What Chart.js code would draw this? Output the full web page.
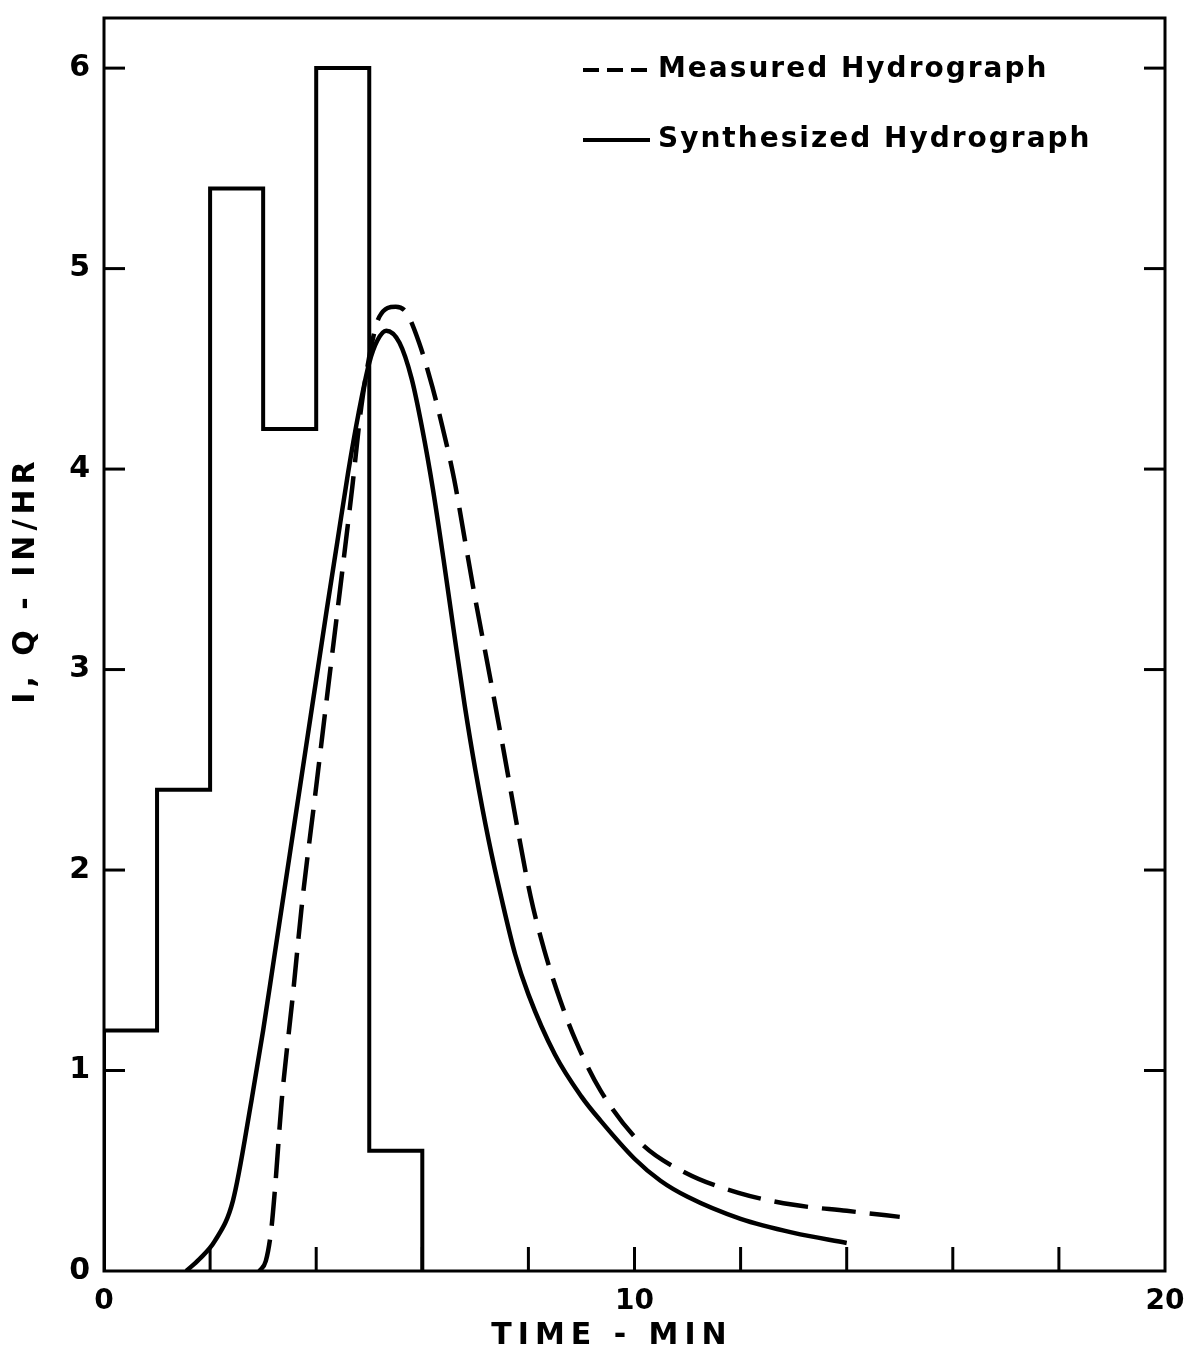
<!DOCTYPE html>
<html>
<head>
<meta charset="utf-8">
<script src="https://cdn.jsdelivr.net/npm/chart.js@4.4.0/dist/chart.umd.min.js"></script>
<style>
  html, body { margin: 0; padding: 0; background: #fff; }
  #wrap { width: 1184px; height: 1357px; }
</style>
</head>
<body>
<div id="wrap"><canvas id="hydroChart" width="1184" height="1357"></canvas></div>
<script>
// Lluvia (hietograma) - bordes de tiempo en min e intensidad en in/hr
const rainEdges = [0, 1, 2, 3, 4, 5, 6];
const rainIntensity = [1.2, 2.4, 5.4, 4.2, 6.0, 0.6];

// Hidrograma medido (línea discontinua)
const measuredTime = [2.93, 3.05, 3.15, 3.22, 3.35, 3.55, 3.74, 3.97, 4.22, 4.45, 4.68, 4.85, 5.06, 5.19, 5.5, 5.7, 5.94, 6.19, 6.38, 6.6, 6.8, 7.0, 7.25, 7.53, 7.8, 8.04, 8.3, 8.6, 8.89, 9.36, 10.11, 10.96, 11.96, 13.0, 14.0, 15.0];
const measuredQ    = [0, 0.05, 0.2, 0.4, 0.85, 1.35, 1.85, 2.35, 2.9, 3.4, 3.91, 4.31, 4.64, 4.76, 4.81, 4.78, 4.63, 4.41, 4.21, 3.95, 3.65, 3.35, 3.0, 2.6, 2.2, 1.87, 1.6, 1.35, 1.15, 0.9, 0.64, 0.49, 0.39, 0.33, 0.3, 0.27];

// Hidrograma sintetizado (línea continua)
const synthTime = [1.55, 1.8, 2.09, 2.43, 2.78, 3.0, 3.2, 3.4, 3.6, 3.8, 4.0, 4.2, 4.4, 4.6, 4.8, 5.0, 5.15, 5.32, 5.57, 5.8, 6.0, 6.2, 6.4, 6.6, 6.8, 7.0, 7.25, 7.5, 7.75, 8.0, 8.5, 9.0, 9.36, 10.0, 10.49, 11.0, 12.0, 13.0, 14.0];
const synthQ    = [0, 0.06, 0.15, 0.35, 0.85, 1.2, 1.55, 1.9, 2.25, 2.6, 2.95, 3.3, 3.64, 3.98, 4.28, 4.53, 4.64, 4.69, 4.63, 4.45, 4.2, 3.9, 3.55, 3.18, 2.82, 2.5, 2.15, 1.85, 1.58, 1.38, 1.08, 0.87, 0.75, 0.56, 0.45, 0.37, 0.26, 0.19, 0.14];

// Marcas de ejes
const yTickValues = [0, 1, 2, 3, 4, 5, 6];
const xTickValues = [0, 2, 4, 6, 8, 10, 12, 14, 16, 18, 20];
const xLabeled = [0, 10, 20];

const FONT = '"DejaVu Sans", "Liberation Sans", sans-serif';

// Puntos del hietograma (escalonado)
const rainPoints = [{ x: rainEdges[0], y: 0 }];
rainIntensity.forEach((v, i) => rainPoints.push({ x: rainEdges[i], y: v }));
rainPoints.push({ x: rainEdges[rainEdges.length - 1], y: 0 });

const toPoints = (xs, ys) => xs.map((t, i) => ({ x: t, y: ys[i] }));

// Marco, marcas hacia adentro, leyenda y títulos
const framePlugin = {
    id: 'frame',
    afterDraw(chart) {
        const { ctx, chartArea: a, scales } = chart;
        const xs = scales.x, ys = scales.y;
        ctx.save();
        ctx.strokeStyle = '#000';
        ctx.fillStyle = '#000';
        ctx.lineCap = 'butt';
        ctx.lineWidth = 3;
        ctx.strokeRect(a.left, a.top, a.right - a.left, a.bottom - a.top);

        const seg = (x1, y1, x2, y2) => { ctx.beginPath(); ctx.moveTo(x1, y1); ctx.lineTo(x2, y2); ctx.stroke(); };
        yTickValues.forEach(v => {
            if (v === 0) return;
            const py = ys.getPixelForValue(v);
            seg(a.left, py, a.left + 21, py);
            seg(a.right - 21, py, a.right, py);
        });
        xTickValues.forEach(v => {
            if (v === 0 || v === 20) return;
            const px = xs.getPixelForValue(v);
            seg(px, a.bottom, px, a.bottom - 24);
        });

        // Leyenda
        ctx.font = 'bold 28px ' + FONT;
        ctx.letterSpacing = '2px';
        ctx.textBaseline = 'middle';
        ctx.textAlign = 'left';
        const legendItems = [chart.data.datasets[1], chart.data.datasets[2]];
        legendItems.forEach((ds, i) => {
            const ly = 70 + i * 70;
            ctx.lineWidth = 4;
            ctx.setLineDash(ds.borderDash && ds.borderDash.length ? [16, 8] : []);
            seg(583, ly, 650, ly);
            ctx.setLineDash([]);
            ctx.fillText(ds.label, 658, ly);
        });

        // Títulos de ejes
        ctx.font = 'bold 30px ' + FONT;
        ctx.letterSpacing = '6px';
        ctx.textAlign = 'center';
        ctx.fillText('TIME - MIN', 612, 1336);

        ctx.save();
        ctx.translate(26, 580);
        ctx.rotate(-Math.PI / 2);
        ctx.letterSpacing = '5px';
        ctx.fillText('I, Q - IN/HR', 0, 0);
        ctx.restore();

        ctx.restore();
    }
};

const chart = new Chart(document.getElementById('hydroChart').getContext('2d'), {
    type: 'scatter',
    data: {
        datasets: [
            {
                label: 'Rainfall',
                data: rainPoints,
                showLine: true,
                stepped: 'before',
                borderColor: '#000',
                borderWidth: 4,
                pointRadius: 0,
                fill: false
            },
            {
                label: 'Measured Hydrograph',
                data: toPoints(measuredTime, measuredQ),
                showLine: true,
                cubicInterpolationMode: 'monotone',
                borderColor: '#000',
                borderWidth: 4.5,
                borderDash: [34, 14],
                pointRadius: 0,
                fill: false
            },
            {
                label: 'Synthesized Hydrograph',
                data: toPoints(synthTime, synthQ),
                showLine: true,
                cubicInterpolationMode: 'monotone',
                borderColor: '#000',
                borderWidth: 4.5,
                pointRadius: 0,
                fill: false
            }
        ]
    },
    options: {
        responsive: false,
        animation: false,
        layout: { padding: { top: 18, right: 19, left: 0, bottom: 0 } },
        plugins: {
            legend: { display: false },
            tooltip: { enabled: false }
        },
        scales: {
            x: {
                type: 'linear',
                min: 0,
                max: 20,
                afterFit: (scale) => { scale.height = 86; scale.paddingLeft = 0; scale.paddingRight = 0; },
                afterBuildTicks: (scale) => { scale.ticks = xLabeled.map(v => ({ value: v })); },
                grid: { display: false, drawTicks: false },
                border: { display: false },
                ticks: {
                    color: '#000',
                    padding: 14,
                    maxRotation: 0,
                    font: { family: FONT, size: 28, weight: 'bold' }
                }
            },
            y: {
                type: 'linear',
                min: 0,
                max: 6.25,
                afterFit: (scale) => { scale.width = 104; scale.paddingTop = 0; scale.paddingBottom = 0; },
                afterBuildTicks: (scale) => { scale.ticks = yTickValues.map(v => ({ value: v })); },
                grid: { display: false, drawTicks: false },
                border: { display: false },
                ticks: {
                    color: '#000',
                    padding: 14,
                    font: { family: FONT, size: 30, weight: 'bold' }
                }
            }
        }
    },
    plugins: [framePlugin]
});
</script>
</body>
</html>
